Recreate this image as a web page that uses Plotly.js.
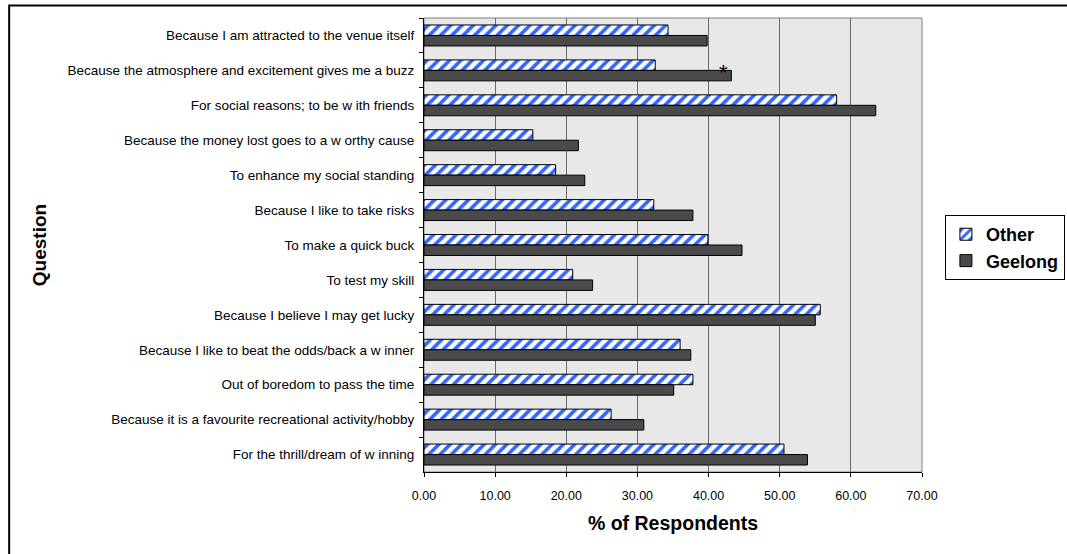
<!DOCTYPE html>
<html>
<head>
<meta charset="utf-8">
<script src="https://cdn.plot.ly/plotly-3.0.1.min.js"></script>
<style>
  html, body { margin: 0; padding: 0; background: #ffffff; }
  #chart { width: 1067px; height: 554px; }
</style>
</head>
<body>
<div id="chart"></div>
<script>
// Reasons for gambling, listed top to bottom
const questions = [
  "Because I am attracted to the venue itself",
  "Because the atmosphere and excitement gives me a buzz",
  "For social reasons; to be w ith friends",
  "Because the money lost goes to a w orthy cause",
  "To enhance my social standing",
  "Because I like to take risks",
  "To make a quick buck",
  "To test my skill",
  "Because I believe I may get lucky",
  "Because I like to beat the odds/back a w inner",
  "Out of boredom to pass the time",
  "Because it is a favourite recreational activity/hobby",
  "For the thrill/dream of w inning"
];

// % of respondents per group
const other   = [34.3, 32.5, 58.0, 15.3, 18.5, 32.3, 39.9, 20.9, 55.7, 36.0, 37.8, 26.3, 50.6];
const geelong = [39.8, 43.2, 63.5, 21.7, 22.6, 37.8, 44.7, 23.7, 55.0, 37.5, 35.1, 30.9, 53.9];

// Significant difference marker
const flaggedIndex = 1;

const xTicks = [0, 10, 20, 30, 40, 50, 60, 70];

const FONT = "Liberation Sans, Arial, Helvetica, sans-serif";

const traces = [
  {
    type: "bar",
    orientation: "h",
    name: "Other",
    legendgroup: "a",
    y: questions,
    x: other,
    marker: {
      color: "#ffffff",
      line: { color: "#000000", width: 1 },
      pattern: { shape: "/", fgcolor: "#3366ff", bgcolor: "#ffffff", size: 8, solidity: 0.45 }
    },
    hoverinfo: "x+y"
  },
  {
    type: "bar",
    orientation: "h",
    name: "Geelong",
    legendgroup: "b",
    y: questions,
    x: geelong,
    marker: {
      color: "#4a4a4a",
      line: { color: "#000000", width: 1 }
    },
    hoverinfo: "x+y"
  }
];

const layout = {
  width: 1067,
  height: 554,
  margin: { l: 424, r: 145, t: 18, b: 82, autoexpand: false },
  paper_bgcolor: "#ffffff",
  plot_bgcolor: "#e8e8e8",
  font: { family: FONT, color: "#000000", size: 12 },
  barmode: "group",
  bargap: 0.4,
  bargroupgap: 0,
  showlegend: true,
  legend: {
    x: 1.046, xanchor: "left",
    y: 0.566, yanchor: "top",
    bgcolor: "#ffffff",
    bordercolor: "#000000",
    borderwidth: 1,
    font: { family: FONT, size: 18, color: "#000000", weight: "bold" },
    traceorder: "normal",
    tracegroupgap: 3,
    itemwidth: 30
  },
  xaxis: {
    range: [0, 70],
    tickvals: xTicks,
    tickformat: ".2f",
    showgrid: true,
    gridcolor: "#6a6a6a",
    gridwidth: 1,
    zeroline: false,
    showline: true,
    linecolor: "#000000",
    linewidth: 1,
    ticks: "outside",
    ticklen: 4,
    tickcolor: "#000000",
    ticklabelstandoff: 8,
    tickfont: { family: FONT, size: 12.5, color: "#000000" },
    title: { text: "% of Respondents", font: { family: FONT, size: 19.5, color: "#000000", weight: "bold" }, standoff: 14 },
    fixedrange: true
  },
  yaxis: {
    type: "category",
    autorange: "reversed",
    showgrid: false,
    zeroline: false,
    showline: true,
    linecolor: "#000000",
    linewidth: 1,
    ticks: "outside",
    tickson: "boundaries",
    ticklen: 4,
    tickcolor: "#000000",
    ticklabelstandoff: 6,
    tickfont: { family: FONT, size: 13.5, color: "#000000" },
    title: { text: "Question", font: { family: FONT, size: 19, color: "#000000", weight: "bold" }, standoff: 15 },
    automargin: false,
    fixedrange: true
  },
  shapes: [
    // plot area frame
    { type: "rect", xref: "paper", yref: "paper", x0: 0, x1: 1, y0: 0, y1: 1,
      line: { color: "#808080", width: 1 }, layer: "below" },
    // outer chart border
    { type: "rect", xref: "paper", yref: "paper", x0: -0.833, x1: 1.30, y0: -0.2, y1: 1.0275,
      line: { color: "#000000", width: 2 }, fillcolor: "rgba(0,0,0,0)" }
  ],
  annotations: [
    { x: geelong[flaggedIndex], y: questions[flaggedIndex], xref: "x", yref: "y",
      text: "*", showarrow: false, xanchor: "center", yanchor: "middle",
      xshift: -8, yshift: -2,
      font: { family: FONT, size: 22, color: "#000000" } }
  ]
};

Plotly.newPlot("chart", traces, layout, { displayModeBar: false, staticPlot: true });
</script>
</body>
</html>
